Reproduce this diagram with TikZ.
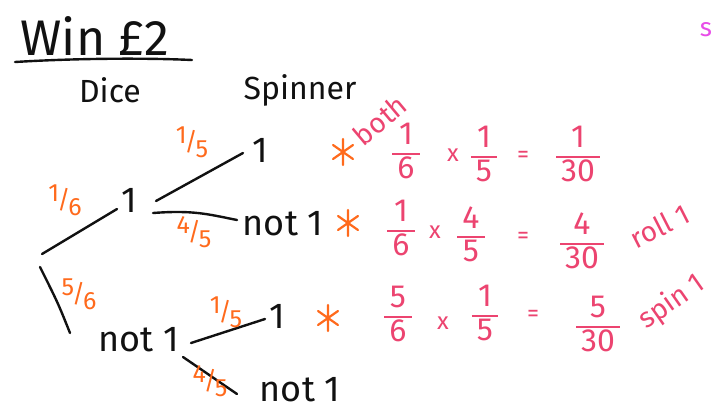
\documentclass[tikz,border=0pt]{standalone}
\usepackage{fontspec}
\setmainfont{Fira Sans}
\usepackage{xcolor}
\definecolor{ink}{HTML}{111111}
\definecolor{probcol}{HTML}{FF6A1C}
\definecolor{calccol}{HTML}{EC4470}
\definecolor{notecol}{HTML}{E84DE8}
\setlength{\arrayrulewidth}{1.8pt}
% stacked fraction as written in the working
\newcommand{\fr}[2]{{\renewcommand{\arraystretch}{0.85}%
  \begin{tabular}{@{\hspace{5pt}}c@{\hspace{5pt}}}#1\\\hline\noalign{\vskip2pt}#2\end{tabular}}}
% slanted fraction on the branches
\newcommand{\oblq}[2]{\raisebox{7pt}{#1}\kern-2pt/\kern-2pt\raisebox{-7pt}{#2}}

\tikzset{
  title/.style={font=\fontsize{50}{56}\selectfont, text=ink},
  head/.style={font=\fontsize{32}{36}\selectfont, text=ink},
  leaf/.style={font=\fontsize{36}{40}\selectfont, text=ink, inner sep=1pt},
  prob/.style={font=\fontsize{25}{27}\selectfont, text=probcol, inner sep=0pt},
  calc/.style={font=\fontsize{32}{32}\selectfont, text=calccol, inner sep=0pt},
  sign/.style={font=\fontsize{24}{26}\selectfont, text=calccol, inner sep=0pt},
  note/.style={font=\fontsize{28}{30}\selectfont, text=calccol, inner sep=0pt},
  pen/.style={line width=2.4pt, draw=ink, line cap=round},
  astmark/.pic={\draw[line width=2.2pt, probcol, line cap=round]
    (0,-13)--(0,13) (-10,-7)--(10,7) (-10,7)--(10,-7);}
}

\begin{document}
\begin{tikzpicture}[x=1pt,y=-1pt]
  \useasboundingbox (0,0) rectangle (715,416);
  \fill[white] (0,0) rectangle (715,416);

  % heading
  \node[title] (win) at (95,36) {Win £2};
  \draw[pen] (15,62) .. controls (80,58) and (150,58) .. (192,60);
  \node[head] (dice) at (110,90) {Dice};
  \node[head] (spin) at (300,90) {Spinner};

  % tree
  \coordinate (r1) at (42,254);
  \coordinate (r2) at (40,267);
  \node[leaf] (d1) at (129,200) {1};
  \node[leaf] (dn) at (139,340) {not 1};
  \node[leaf] (s1) at (260,150) {1};
  \node[leaf] (sn) at (283,224) {not 1};
  \node[leaf] (t1) at (277,316) {1};
  \node[leaf] (tn) at (300,390) {not 1};

  \draw[pen] (r1) -- ([shift={(-12,9)}]d1.center);
  \draw[pen] (r2) .. controls +(18,36) .. ([shift={(-69,-7)}]dn.center);
  \draw[pen] ([shift={(27,1)}]d1.center) -- ([shift={(-17,3)}]s1.center);
  \draw[pen] ([shift={(24,13)}]d1.center) .. controls +(40,-3) and +(-30,-6) .. ([shift={(-46,-4)}]sn.center);
  \draw[pen] ([shift={(52,3)}]dn.center) -- ([shift={(-12,3)}]t1.center);
  \draw[pen] ([shift={(44,17)}]dn.center) -- ([shift={(-63,4)}]tn.center);

  % branch probabilities
  \node[prob] (p16) at (65,200) {\oblq{1}{6}};
  \node[prob] (p56) at (79,294) {\oblq{5}{6}};
  \node[prob] (pa15) at (192,142) {\oblq{1}{5}};
  \node[prob] (pa45) at (194,232) {\oblq{4}{5}};
  \node[prob] (pb15) at (226,312) {\oblq{1}{5}};
  \node[prob] (pb45) at (210,381) {\oblq{4}{5}};

  % marks for outcomes
  \pic (m1) at (343,152) {astmark};
  \pic (m2) at (348,223) {astmark};
  \pic (m3) at (328,318) {astmark};

  % working
  \node[calc] (a1) at (406,155) {\fr{1}{6}};
  \node[sign] (ax) at (453,155) {x};
  \node[calc] (a2) at (484,158) {\fr{1}{5}};
  \node[sign] (aq) at (523,157) {=};
  \node[calc] (a3) at (578,158) {\fr{1}{30}};

  \node[calc] (b1) at (401,232) {\fr{1}{6}};
  \node[sign] (bx) at (435,232) {x};
  \node[calc] (b2) at (471,238) {\fr{4}{5}};
  \node[sign] (bq) at (523,238) {=};
  \node[calc] (b3) at (582,245) {\fr{4}{30}};

  \node[calc] (c1) at (398,318) {\fr{5}{6}};
  \node[sign] (cx) at (443,323) {x};
  \node[calc] (c2) at (485,317) {\fr{1}{5}};
  \node[sign] (cq) at (533,316) {=};
  \node[calc] (c3) at (598,328) {\fr{5}{30}};

  % notes
  \node[note, rotate=40] (both) at (380,120) {both};
  \node[note, rotate=27] (roll) at (660,226) {roll 1};
  \node[note, rotate=35] (spinone) at (672,302) {spin 1};
  \node[note, text=notecol, font=\fontsize{26}{28}\selectfont] (side) at (706,30) {s};
\end{tikzpicture}
\end{document}
